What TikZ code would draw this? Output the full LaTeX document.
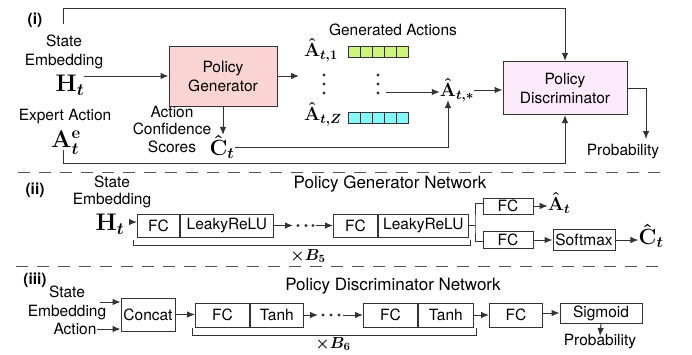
\RequirePackage{fix-cm}
\documentclass[tikz,border=0pt]{standalone}
\usepackage{amsmath}
\usepackage[no-math]{fontspec}
\setmainfont{TeX Gyre Heros}
\usetikzlibrary{arrows.meta,calc}
\definecolor{lc}{HTML}{333333}
\definecolor{dc}{HTML}{555555}
\definecolor{pgfill}{HTML}{FAD3D3}
\definecolor{pdfill}{HTML}{FBEBFB}
\definecolor{gcell}{HTML}{CCF57A}
\definecolor{ccell}{HTML}{80FAFA}
\tikzset{
 txt/.style={inner sep=0pt, font=\fontsize{15.5}{19}\selectfont, align=center},
 ttl/.style={inner sep=0pt, font=\fontsize{17}{19}\selectfont},
 sec/.style={inner sep=0pt, font=\bfseries\fontsize{15.5}{19}\selectfont},
 sym/.style={inner sep=0pt, font=\boldmath\fontsize{24}{24}\selectfont},
 symA/.style={inner sep=0pt, font=\boldmath\fontsize{19}{19}\selectfont},
 symC/.style={inner sep=0pt, font=\boldmath\fontsize{22}{22}\selectfont},
 symB/.style={inner sep=0pt, font=\boldmath\fontsize{16}{16}\selectfont},
 blk/.style={draw=lc, line width=0.9pt, inner sep=0pt, font=\fontsize{15.5}{16}\selectfont, minimum height=24, anchor=west},
 bigbox/.style={draw=lc, line width=1pt, inner sep=0pt, align=center, font=\fontsize{15.5}{19}\selectfont},
 arr/.style={draw=lc, line width=1pt, -{Latex[length=8pt,width=6.5pt]}},
 ln/.style={draw=lc, line width=1pt},
 dsh/.style={draw=dc, line width=1pt, dash pattern=on 12pt off 9pt},
 cellg/.style={draw=lc, line width=0.8pt, fill=gcell, minimum width=12, minimum height=11, inner sep=0pt},
 cellc/.style={draw=lc, line width=0.8pt, fill=ccell, minimum width=12, minimum height=11, inner sep=0pt},
}
\begin{document}
\begin{tikzpicture}[x=1pt,y=-1pt]
\useasboundingbox (0,0) rectangle (692,354);

% ---------------- Section (i) ----------------
\node[sec] (li) at (35,20) {(i)};
\node[txt] (se1) at (64,52) {State\\Embedding};
\node[sym] (H1) at (70,85) {$\mathbf{H}_{t}$};
\node[bigbox, fill=pgfill, minimum width=108, minimum height=60] (pg) at (223,76) {Policy\\Generator};
\node[txt, font=\fontsize{15.5}{17.5}\selectfont] (acs) at (172,129) {Action\\Confidence\\Scores};
\node[symC] (C1) at (222,147) {$\hat{\mathbf{C}}_{t}$};
\node[txt] (ea) at (65,117) {Expert Action};
\node[sym] (Ae) at (66,143) {$\mathbf{A}^{\mathbf{e}}_{t}$};
\node[txt] (ga) at (393,30) {Generated Actions};
\node[symA] (A1) at (321,50) {$\hat{\mathbf{A}}_{t,1}$};
\node[symA] (AZ) at (323,114) {$\hat{\mathbf{A}}_{t,Z}$};
\node[symA] (Ast) at (457,90) {$\hat{\mathbf{A}}_{t,*}$};
\foreach \i in {0,...,4} {
  \node[cellg] (gc\i) at (354+12*\i,51.5) {};
  \node[cellc] (cc\i) at (354+12*\i,117.5) {};
}
\foreach \y in {75,84,93} {
  \fill[lc] (324,\y) circle (1.7pt);
  \fill[lc] (378,\y) circle (1.7pt);
}
\node[bigbox, fill=pdfill, minimum width=124, minimum height=53] (pd) at (565,88) {Policy\\Discriminator};
\node[txt] (pr1) at (623,152) {Probability};

\coordinate (t0) at (63,24);
\coordinate (topy) at (0,8);
\coordinate (b0) at (63,150);
\coordinate (boty) at (0,163);
\coordinate (g0) at (299,76);
\coordinate (d2) at (386,92);
\coordinate (astb) at (448,100);
\coordinate (pa) at (646,139);

\draw[arr] (H1.east |- pg.west) -- (pg.west);
\draw[arr] (pg.east) -- (g0);
\draw[arr] (pg.south) -- (pg.south |- C1.north);
\draw[arr] (C1.east) -| (astb);
\draw[arr] (d2) -- (d2 -| Ast.west);
\draw[arr] (Ast.east) -- (Ast.east -| pd.west);
\draw[arr] (t0) |- (pd.north |- topy) -- (pd.north);
\draw[arr] (b0) |- (pd.south |- boty) -- (pd.south);
\draw[arr] (pd.east) -| (pa);

\coordinate (da1) at (18,172);
\coordinate (da2) at (664,172);
\draw[dsh] (da1) -- (da2);

% ---------------- Section (ii) ----------------
\node[sec] (lii) at (35,190) {(ii)};
\node[ttl] (t2) at (390,184) {Policy Generator Network};
\node[txt, font=\fontsize{15.5}{17}\selectfont] (se2) at (112,192) {State\\Embedding};
\node[sym] (H2) at (110,224) {$\mathbf{H}_{t}$};
\node[blk, minimum width=42, minimum height=23] (b1a) at (137,225.5) {FC};
\node[blk, minimum width=93, minimum height=23] (b1b) at (b1a.east) {LeakyReLU};
\node[blk, minimum width=44, minimum height=23] (b2a) at (333,225.5) {FC};
\node[blk, minimum width=90, minimum height=23] (b2b) at (b2a.east) {LeakyReLU};
\node[blk, minimum width=50, minimum height=16, anchor=center] (fc1) at (508,206) {FC};
\node[blk, minimum width=50, minimum height=17, anchor=center] (fc2) at (508,239.5) {FC};
\node[blk, minimum width=62, minimum height=21, anchor=center] (sm) at (584,240) {Softmax};
\node[symA] (A2) at (559,203) {$\hat{\mathbf{A}}_{t}$};
\node[symC] (C2) at (651,236) {$\hat{\mathbf{C}}_{t}$};
\node[symB] (x5) at (308,256) {$\times B_5$};

\coordinate (h2a) at (129,222);
\coordinate (d3s) at (293,225.5);
\coordinate (d3e) at (316,225.5);
\coordinate (fk) at (475,225.5);
\foreach \x in {298,306,313} \fill[lc] (\x,225.5) circle (1.6pt);

\draw[arr] (h2a) -- (h2a -| b1a.west);
\draw[arr] (b1b.east) -- (d3s);
\draw[arr] (d3e) -- (b2a.west);
\draw[ln] (b2b.east) -- (fk);
\draw[ln] ([yshift=3pt]fc1.west) -| (fk) |- ([yshift=-1.5pt]fc2.west);
\draw[arr] (fc1.east) -- (fc1.east -| A2.west);
\draw[arr] (fc2.east |- sm.west) -- (sm.west);
\draw[arr] (sm.east) -- (sm.east -| C2.west);
\draw[ln] ([xshift=-4pt,yshift=-3pt]b1a.south west) -- ++(0,5) -| ([xshift=2pt,yshift=-3pt]b2b.south east);

\coordinate (db1) at (16,266);
\coordinate (db2) at (664,266);
\draw[dsh] (db1) -- (db2);

% ---------------- Section (iii) ----------------
\node[sec] (liii) at (35,280) {(iii)};
\node[ttl] (t3) at (393,286) {Policy Discriminator Network};
\node[txt] (se3) at (67,302.5) {State\\Embedding};
\node[txt] (act) at (75,329) {Action};
\node[blk, minimum width=54, minimum height=33, anchor=center] (cc) at (148,314.5) {Concat};
\node[blk, minimum width=54] (b3a) at (195,315) {FC};
\node[blk, minimum width=53] (b3b) at (b3a.east) {Tanh};
\node[blk, minimum width=54] (b4a) at (363,315) {FC};
\node[blk, minimum width=55] (b4b) at (b4a.east) {Tanh};
\node[blk, minimum width=53] (fc3) at (489,315) {FC};
\node[blk, minimum width=82, minimum height=20, anchor=center] (sg) at (601,313) {Sigmoid};
\node[txt] (pr2) at (600,342) {Probability};
\node[symB] (x6) at (333,344) {$\times B_6$};

\coordinate (s3a) at (100,302);
\coordinate (d4s) at (318,315);
\coordinate (d4e) at (343,315);
\coordinate (pb) at (600,336);
\foreach \x in {323,331,339} \fill[lc] (\x,315) circle (1.6pt);

\draw[arr] (s3a) -- (s3a -| cc.west);
\draw[arr] (act.east) -- (act.east -| cc.west);
\draw[arr] (cc.east) -- (cc.east -| b3a.west);
\draw[arr] (b3b.east) -- (d4s);
\draw[arr] (d4e) -- (b4a.west);
\draw[arr] (b4b.east) -- (fc3.west);
\draw[arr] (fc3.east |- sg.west) -- (sg.west);
\draw[arr] (sg.south) -- (pb);
\draw[ln] ([xshift=-3pt,yshift=-1pt]b3a.south west) -- ++(0,7) -| ([xshift=3pt,yshift=-1pt]b4b.south east);
\end{tikzpicture}
\end{document}
